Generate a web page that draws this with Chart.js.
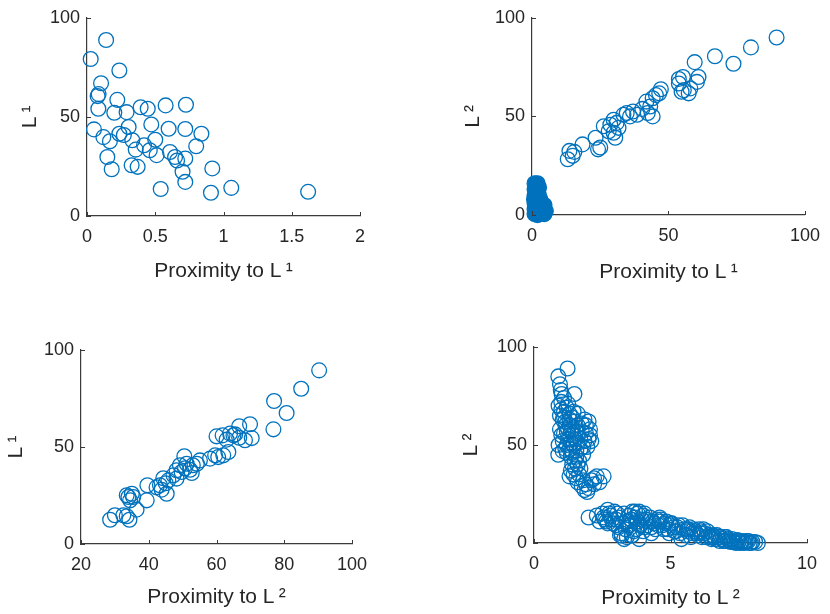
<!DOCTYPE html>
<html>
<head>
<meta charset="utf-8">
<script src="https://cdn.jsdelivr.net/npm/chart.js@4.4.1/dist/chart.umd.min.js"></script>
<style>
  html, body { margin: 0; padding: 0; background: #ffffff; }
  #wrap { position: relative; width: 830px; height: 614px; overflow: hidden; }
  canvas { position: absolute; }
</style>
</head>
<body>
<div id="wrap">
  <canvas id="c1" width="415" height="307" style="left:0px;top:0px"></canvas>
  <canvas id="c2" width="415" height="307" style="left:415px;top:0px"></canvas>
  <canvas id="c3" width="415" height="307" style="left:0px;top:307px"></canvas>
  <canvas id="c4" width="415" height="307" style="left:415px;top:307px"></canvas>
</div>
<script>
// ---------- DATA ----------
// Panel 1: Proximity to L1 (x) vs L1 (y)
const p1X = [0.14,0.027,0.237,0.103,0.078,0.085,0.083,0.222,0.2,0.29,0.393,0.445,0.576,0.725,0.051,0.12,0.168,0.237,0.27,0.305,0.332,0.471,0.598,0.72,0.838,0.8,0.5,0.357,0.418,0.46,0.51,0.608,0.645,0.72,0.149,0.181,0.327,0.371,0.7,0.72,0.918,0.54,0.908,1.057,1.62,0.66];
const p1Y = [88.8,79.2,73.4,67,60.5,61.5,54.1,58.6,52.1,52.4,54.9,54.1,55.8,56.1,43.7,39.8,37.7,41.5,40.9,44.9,38.2,46.2,44,43.9,41.5,35.2,38.5,33.5,35.7,33.2,30.7,32.3,29.8,29,29.8,23.6,25.6,24.8,22.3,17.2,24,13.6,11.7,14.2,12.2,28];

// Panel 2: Proximity to L1 (x) vs L2 (y)
const p2X = [89.6,80.2,73.8,67,59.6,61,60.4,53.8,55.3,53.8,55.6,57.4,54.8,58,47.2,45.4,44.2,46.6,41.9,43.3,40.4,42.4,44.2,37,35.9,34.7,33.5,38.5,29.9,31,28.7,31.7,29.9,26.3,28.1,30.5,23.3,25,24.2,18.5,13.7,15.5,13.1,14.9];
const p2Y = [90,85,76.7,80.5,77.5,70,67.5,69,70,66.7,63.3,61.7,62.5,64.2,63.8,60.8,59.2,61.7,57.5,55,53.8,51.7,50,52.5,50,51.7,50.8,50.8,48.3,46.7,45.8,44.2,41.7,45,42.5,39.2,39.2,34.2,33.3,35.8,32.5,32,28.3,30];
// dense cluster near the origin of panel 2
const p2ClusterX = [1,2,2.5,1,2,1,2.5,1.5,3,1,2,3.5,4.5,1,2.5,4,5,1,2,3,4.5,1.5,1.8,0.8,2.2,3.2,4.2,1.3];
const p2ClusterY = [16,16,14,13,12,10,10,8,8,6,6,6,5,3,3,3,2,0.5,0,0.5,0.5,11,14,8,4,2,1.5,14.5];

// Panel 3: Proximity to L2 (x) vs L1 (y)
const p3X = [90.3,85,77,80.7,76.8,69.9,66.7,70.4,68.4,66.7,65,64,61.8,60,63,65.5,63.5,62,60.5,59.6,58.1,55.1,54.2,53,52.2,52.7,51.2,50.7,49.7,48.2,49.2,50.5,47.3,48.2,45.8,45,44.3,43.3,42.3,43.8,45.3,39.6,39.4,36.4,35.4,34,34.5,33.5,35,30,28.6,33.5,34.3,32.5];
const p3Y = [89.5,80,73.7,67.5,59.1,61.7,60.7,54.6,53.5,54.8,56,56.9,56,55.5,53.8,56.5,47.4,45.7,44.8,45.7,44,43.1,41.4,40.6,38.3,36.6,41.4,39,37.1,38,40.6,45.2,35.4,33.7,32.8,31.3,33.9,30.3,29.2,28,25.9,30.3,22.5,17.7,24.2,24.2,22.5,25.1,25.9,14.8,12.5,14.3,12.5,14.8];

// Panel 4: Proximity to L2 (x) vs L2 (y)
const p4X = [1.23,0.89,0.95,0.98,1.01,1.48,0.9,1.0,1.1,1.2,1.3,1.4,1.05,1.15,1.5,1.6,1.75,1.85,1.9,2.0,2.05,0.95,1.0,1.1,1.25,1.35,1.45,1.6,1.7,1.85,2.0,2.1,1.95,0.9,1.05,1.2,1.3,1.45,1.55,1.7,1.8,0.89,1.2,1.35,1.5,1.6,1.4,1.35,1.45,1.55,1.65,1.8,1.9,2.0,1.95,2.1,2.3,2.55,2.2,1.7,1.3,1.15,1.3,
  1.0,1.1,1.2,1.3,1.4,1.5,1.6,1.75,1.8,1.9,2.05,1.25,1.35,1.15,1.4,1.55,1.65,1.5,1.6,1.75,1.85,2.2,2.4,0.95,1.1,1.25,1.05,1.6,1.45,
  2.0,2.5,2.6,2.7,2.8,2.9,3.0,3.1,3.2,3.3,3.4,3.5,3.6,3.65,3.7,3.8,3.9,4.0,4.1,4.2,4.3,4.4,4.5,4.6,4.7,4.8,4.9,5.0,5.1,5.2,5.3,5.4,5.5,5.6,5.7,5.8,5.9,6.0,6.1,6.2,6.3,6.4,6.5,6.6,6.7,6.8,6.9,7.0,7.1,7.2,7.3,7.4,7.5,7.6,7.7,7.8,7.9,8.0,8.2,3.21,3.58,3.45,3.85,3.55,3.75,4.05,4.6,5.0,5.6,6.1,6.5,7.0,2.65,3.05,
  2.3,2.4,2.55,2.7,2.75,2.85,2.95,3.0,3.1,3.15,3.25,3.3,3.35,3.4,3.5,3.55,3.6,3.7,3.75,3.8,3.85,3.95,4.0,4.05,4.15,4.25,4.3,4.35,4.45,4.55,4.65,4.75,4.85,4.95,5.05,5.15,5.25,5.35,5.45,5.55,5.65,5.75,5.85,5.95,6.05,6.15,6.25,6.35,6.45,6.55,6.65,6.75,6.85,6.95,7.05,7.15,7.25,7.35,7.45,7.55,7.65,7.75,7.85,7.95,8.1];
const p4Y = [89,85,81,78,76,76,70,68,67,69,66,64,63,62,62,60,61,63,60,62,58,58,55,56,58,57,55,56,53,52,53,52,49,50,52,50,48,50,47,48,49,45,46,44,42,40,40,37,35,33,35,32,30,28,26,32,34,34,30,38,34,60,63,
  72,64,57,60,58,53,51,57,45,56,55,53,51,48,46,44,42,38,31,29,27,33,31,65,74,71,47,66,67,
  13,15,12,17,14,10,12,8,5,2,11,14,16,6,13,15,9,14,12,11,5,10,12,11,9,10,7,9,8,6,9,2,7,6,8,5,6,4,5,7,3,4,2,3,4,1,2,1,2,0.5,1,0,1,0.5,0,1,0,0.5,0,3.8,3.8,9,16,12,10,8,13,10,7,6,3,3,11,15,
  14,11,13,10,15,12,16,9,13,4,10,15,7,3,9,12,4,16,7,11,2,12,6,15,9,13,8,11,7,9,12,7,11,5,10,6,8,5,9,4,7,3,7,5,7,3,5,6,3,4,2,3,3,1,3,1,2,0.5,1.5,0,1,0.5,1,0,0.5];

// ---------- STYLE ----------
const BLUE = '#0072BD';
const AX = '#3a3a3a';
const TXT = '#262626';
const FONT = 'Liberation Sans, Arial, Helvetica, sans-serif';

function pts(xs, ys) { return xs.map((x, i) => ({ x: x, y: ys[i] })); }

const inwardTicks = {
  id: 'inwardTicks',
  afterDraw(chart) {
    const ctx = chart.ctx, a = chart.chartArea;
    ctx.save();
    ctx.strokeStyle = AX;
    ctx.lineWidth = 1;
    const xs = chart.scales.x, ys = chart.scales.y;
    xs.ticks.forEach(t => {
      const px = Math.round(xs.getPixelForValue(t.value)) + 0.5;
      ctx.beginPath(); ctx.moveTo(px, a.bottom); ctx.lineTo(px, a.bottom - 4); ctx.stroke();
    });
    ys.ticks.forEach(t => {
      const py = Math.round(ys.getPixelForValue(t.value)) + 0.5;
      ctx.beginPath(); ctx.moveTo(a.left, py); ctx.lineTo(a.left + 4, py); ctx.stroke();
    });
    ctx.restore();
  }
};

function makeChart(id, datasets, cfg) {
  const H = 307, W = 415;
  new Chart(document.getElementById(id), {
    type: 'scatter',
    data: { datasets: datasets },
    options: {
      responsive: false,
      animation: false,
      devicePixelRatio: 1,
      layout: { padding: { left: 0, top: cfg.top, right: W - cfg.right, bottom: 0 } },
      plugins: { legend: { display: false }, tooltip: { enabled: false } },
      scales: {
        x: {
          type: 'linear', min: cfg.xmin, max: cfg.xmax,
          afterFit(s) { s.height = H - cfg.bottom; },
          afterBuildTicks(s) { s.ticks = cfg.xticks.map(v => ({ value: v })); },
          ticks: { font: { family: FONT, size: 18 }, color: TXT, padding: 10, maxRotation: 0, autoSkip: false,
                   callback: v => String(v) },
          grid: { display: true, drawOnChartArea: false, drawTicks: false },
          border: { display: true, color: AX, width: 1.2 },
          title: { display: true, text: cfg.xtitle, color: TXT, font: { family: FONT, size: 21 },
                   padding: { top: 0, bottom: cfg.xtpad } }
        },
        y: {
          type: 'linear', min: 0, max: 100,
          afterFit(s) { s.width = cfg.left; },
          afterBuildTicks(s) { s.ticks = [0, 50, 100].map(v => ({ value: v })); },
          ticks: { font: { family: FONT, size: 18 }, color: TXT, padding: 7, autoSkip: false,
                   callback: v => String(v) },
          grid: { display: true, drawOnChartArea: false, drawTicks: false },
          border: { display: true, color: AX, width: 1.2 },
          title: { display: true, text: cfg.ytitle, color: TXT, font: { family: FONT, size: 21 },
                   padding: { top: cfg.ytpad, bottom: 0 } }
        }
      }
    },
    plugins: [inwardTicks]
  });
}

function hollow(data) {
  return { data: data, pointStyle: 'circle', pointRadius: 7.4, pointBorderWidth: 1.3,
           pointBorderColor: BLUE, pointBackgroundColor: 'rgba(0,0,0,0)', showLine: false, clip: false };
}
function filled(data) {
  return { data: data, pointStyle: 'circle', pointRadius: 7.6, pointBorderWidth: 1.3,
           pointBorderColor: BLUE, pointBackgroundColor: BLUE, showLine: false, clip: false };
}

makeChart('c1', [hollow(pts(p1X, p1Y))],
  { left: 87, right: 360, top: 17, bottom: 216, xmin: 0, xmax: 2, xticks: [0, 0.5, 1, 1.5, 2],
    xtitle: 'Proximity to L\u2009\u00B9', ytitle: 'L\u2009\u00B9', xtpad: 23, ytpad: 18 });

makeChart('c2', [filled(pts(p2ClusterX, p2ClusterY)), hollow(pts(p2X, p2Y))],
  { left: 117, right: 395, top: 15, bottom: 215, xmin: 0, xmax: 100, xticks: [0, 50, 100],
    xtitle: 'Proximity to L\u2009\u00B9', ytitle: 'L\u2009\u00B2', xtpad: 22, ytpad: 46 });

makeChart('c3', [hollow(pts(p3X, p3Y))],
  { left: 81, right: 352, top: 43, bottom: 237, xmin: 20, xmax: 100, xticks: [20, 40, 60, 80, 100],
    xtitle: 'Proximity to L\u2009\u00B2', ytitle: 'L\u2009\u00B9', xtpad: 4, ytpad: 4 });

makeChart('c4', [hollow(pts(p4X, p4Y))],
  { left: 119, right: 392, top: 40, bottom: 236, xmin: 0, xmax: 10, xticks: [0, 5, 10],
    xtitle: 'Proximity to L\u2009\u00B2', ytitle: 'L\u2009\u00B2', xtpad: 3, ytpad: 44 });
</script>
</body>
</html>
